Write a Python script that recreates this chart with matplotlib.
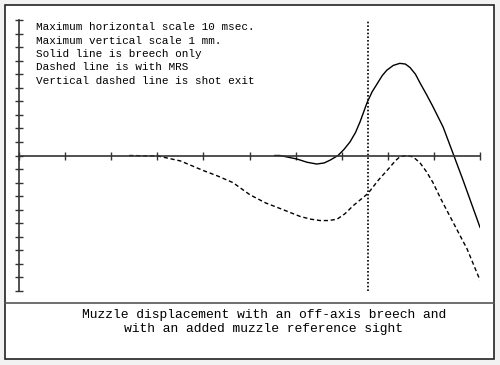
import matplotlib.pyplot as plt
from matplotlib.patches import Rectangle
from matplotlib.lines import Line2D
import numpy as np

# time in msec, displacement in mm
breech_t = [5.55, 5.66, 6.03, 6.25, 6.46, 6.62, 6.75, 6.92, 7.05, 7.18, 7.30, 7.40,
            7.55, 7.66, 7.77, 7.88, 7.98, 8.12, 8.26, 8.38, 8.48, 8.60, 8.70, 8.84,
            8.98, 9.20, 9.41, 9.63, 10.0]
breech_v = [0.0, 0.0, -0.026, -0.05, -0.063, -0.055, -0.034, 0.0, 0.045, 0.10, 0.17, 0.25,
            0.39, 0.47, 0.53, 0.59, 0.63, 0.665, 0.68, 0.675, 0.65, 0.60, 0.535, 0.45,
            0.36, 0.21, 0.02, -0.18, -0.53]

mrs_t = [2.39, 3.02, 3.5, 3.99, 4.3, 4.64, 5.01, 5.35, 5.73, 6.10, 6.33, 6.53, 6.72,
         6.90, 7.07, 7.25, 7.57, 7.80, 8.05, 8.16, 8.26, 8.40, 8.55, 8.70, 8.84, 8.98,
         9.15, 9.35, 9.72, 10.0]
mrs_v = [0.0, -0.004, -0.04, -0.11, -0.15, -0.20, -0.29, -0.35, -0.40, -0.45, -0.47, -0.48,
         -0.48, -0.47, -0.43, -0.37, -0.28, -0.18, -0.085, -0.04, -0.01, 0.0, -0.01, -0.055,
         -0.12, -0.20, -0.32, -0.45, -0.69, -0.92]

shot_exit = 7.57
notes = ["Maximum horizontal scale 10 msec.",
         "Maximum vertical scale 1 mm.",
         "Solid line is breech only",
         "Dashed line is with MRS",
         "Vertical dashed line is shot exit"]
caption = "Muzzle displacement with an off-axis breech and\nwith an added muzzle reference sight"

W, H = 500, 365
fig = plt.figure(figsize=(W / 100, H / 100), dpi=100, facecolor='#f2f2f2')

def px(x, y):
    return x / W, 1 - y / H

# outer frame and caption divider
fig.patches.append(Rectangle(px(5, 359), 489 / W, 354 / H, transform=fig.transFigure,
                             facecolor='white', edgecolor='#222222', lw=1.2, zorder=-1))
fig.lines.append(Line2D([5 / W, 494 / W], [1 - 303 / H] * 2, transform=fig.transFigure,
                        color='#555555', lw=1.2))

ax = fig.add_axes([19 / W, 1 - 291 / H, 461 / W, 271 / H])
ax.set_zorder(1)
ax.patch.set_alpha(0)
ax.set_xlim(0, 10)
ax.set_ylim(-1, 1)
for s in ['top', 'right']:
    ax.spines[s].set_visible(False)
ax.spines['bottom'].set_position('zero')
ax.spines['left'].set_position(('data', 0))
for s in ['bottom', 'left']:
    ax.spines[s].set_color('#333333')
    ax.spines[s].set_linewidth(1.2)
ax.set_xticks(np.arange(0, 11, 1))
ax.set_yticks(np.round(np.arange(-1, 1.01, 0.1), 1))
ax.tick_params(direction='inout', length=6, width=1, color='#333333',
               labelbottom=False, labelleft=False)
# end ticks of the vertical scale are a little wider
ax.set_yticks([-1, 1], minor=True)
ax.tick_params(axis='y', which='minor', direction='inout', length=9, width=1.2,
               color='#333333')

ax.plot(breech_t, breech_v, color='black', lw=1)
ax.plot(mrs_t, mrs_v, color='black', lw=1, linestyle=(0, (3, 2)))
ax.plot([shot_exit, shot_exit], [-1, 1], color='black', lw=1.2, linestyle=(0, (1, 1.2)))

for i, line in enumerate(notes):
    fig.text(36 / W, 1 - (27 + 13.5 * i) / H, line, family='Liberation Mono',
             fontsize=7.9, va='center', ha='left')

fig.text(264 / W, 1 - 322 / H, caption, family='Liberation Mono', fontsize=9.4,
         ha='center', va='center', linespacing=1.15)

fig.savefig('out.png', dpi=100, facecolor=fig.get_facecolor())
